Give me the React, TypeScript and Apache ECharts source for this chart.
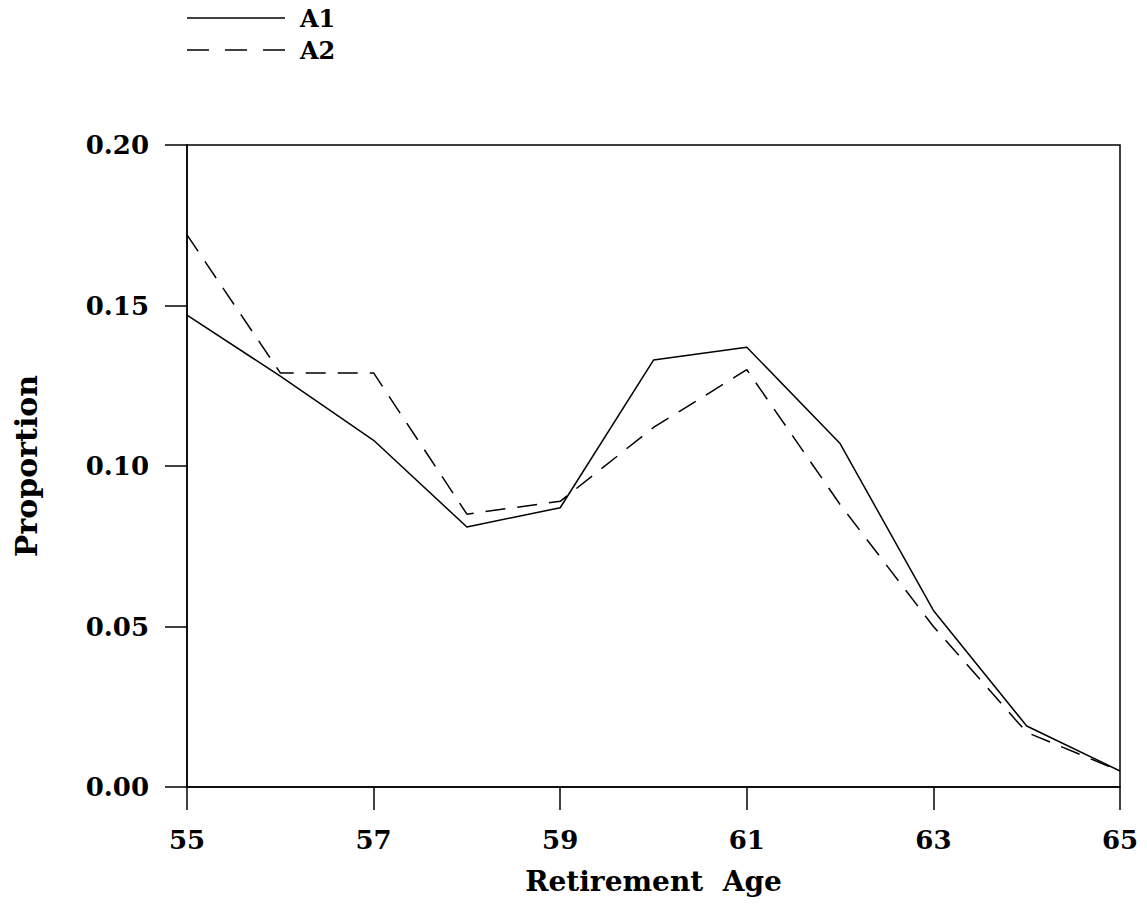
import React, { useEffect, useRef } from 'react';
import * as echarts from 'echarts';

const ages = ['55', '56', '57', '58', '59', '60', '61', '62', '63', '64', '65'];
const seriesA1 = [0.147, 0.128, 0.108, 0.081, 0.087, 0.133, 0.137, 0.107, 0.055, 0.019, 0.005];
const seriesA2 = [0.172, 0.129, 0.129, 0.085, 0.089, 0.112, 0.130, 0.088, 0.050, 0.017, 0.005];
const seriesNames = ['A1', 'A2'];
const xTitle = 'Retirement  Age';
const yTitle = 'Proportion';

const FONT = 'DejaVu Serif';

export default function App() {
  const ref = useRef<HTMLDivElement>(null);
  useEffect(() => {
    if (!ref.current) return;
    const chart = echarts.init(ref.current, null, { renderer: 'svg' });
    const legendText = {
      fontFamily: FONT,
      fontWeight: 'bold',
      fontSize: 24,
      fill: '#000',
      verticalAlign: 'middle',
      align: 'left',
    };
    chart.setOption({
      animation: false,
      backgroundColor: '#fff',
      grid: {
        left: 187,
        right: 27,
        top: 145,
        bottom: 137,
        show: true,
        borderColor: '#000',
        borderWidth: 1.5,
        containLabel: false,
      },
      graphic: [
        {
          type: 'line',
          shape: { x1: 187, y1: 18, x2: 285, y2: 18 },
          style: { stroke: '#000', lineWidth: 1.5 },
        },
        { type: 'text', x: 300, y: 18, style: { ...legendText, text: seriesNames[0] } },
        {
          type: 'line',
          shape: { x1: 187, y1: 50, x2: 285, y2: 50 },
          style: { stroke: '#000', lineWidth: 1.5, lineDash: [22, 16] },
        },
        { type: 'text', x: 300, y: 50, style: { ...legendText, text: seriesNames[1] } },
      ],
      xAxis: {
        type: 'category',
        data: ages,
        boundaryGap: false,
        name: xTitle,
        nameLocation: 'middle',
        nameGap: 80,
        nameTextStyle: { fontFamily: FONT, fontWeight: 'bold', fontSize: 28, color: '#000' },
        axisLine: { lineStyle: { color: '#000', width: 1.5 } },
        axisTick: { interval: 1, length: 23, lineStyle: { color: '#000', width: 1.5 } },
        axisLabel: {
          interval: 1,
          margin: 40,
          fontFamily: FONT,
          fontWeight: 'bold',
          fontSize: 26,
          color: '#000',
        },
        splitLine: { show: false },
      },
      yAxis: {
        type: 'value',
        min: 0,
        max: 0.2,
        interval: 0.05,
        name: yTitle,
        nameLocation: 'middle',
        nameGap: 146,
        nameTextStyle: { fontFamily: FONT, fontWeight: 'bold', fontSize: 30, color: '#000' },
        axisLine: { show: true, lineStyle: { color: '#000', width: 1.5 } },
        axisTick: { show: true, length: 22, lineStyle: { color: '#000', width: 1.5 } },
        axisLabel: {
          margin: 38,
          fontFamily: FONT,
          fontWeight: 'bold',
          fontSize: 26,
          color: '#000',
          formatter: (v: number) => v.toFixed(2),
        },
        splitLine: { show: false },
      },
      series: [
        {
          name: seriesNames[0],
          type: 'line',
          data: seriesA1,
          symbol: 'none',
          lineStyle: { color: '#000', width: 1.5, type: 'solid' },
          itemStyle: { color: '#000' },
        },
        {
          name: seriesNames[1],
          type: 'line',
          data: seriesA2,
          symbol: 'none',
          lineStyle: { color: '#000', width: 1.5, type: [20, 12] },
          itemStyle: { color: '#000' },
        },
      ],
    });
    return () => chart.dispose();
  }, []);
  return (
    <div
      ref={ref}
      style={{ position: 'absolute', left: 0, top: 0, width: 1147, height: 924, background: '#fff' }}
    />
  );
}
